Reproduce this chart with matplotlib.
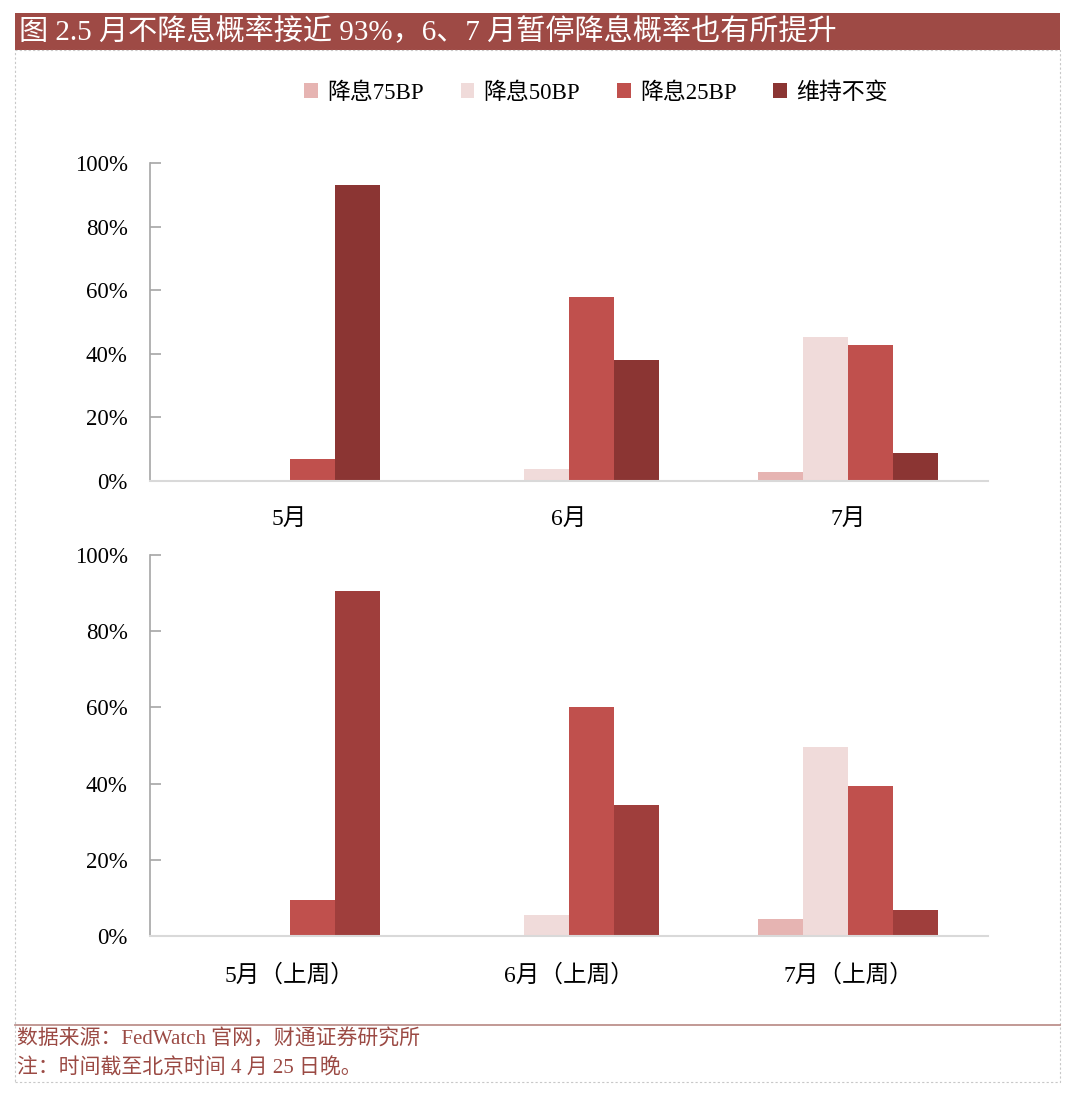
import matplotlib.pyplot as plt
from matplotlib.patches import Rectangle
from matplotlib.lines import Line2D
import numpy as np

#fonts: serif latin first, CJK fallback
FONTS = ['Liberation Serif', 'Noto Sans CJK SC']
plt.rcParams['font.family'] = FONTS

#DATA
################################################################################
series = ['降息75BP', '降息50BP', '降息25BP', '维持不变']

months_now = ['5月', '6月', '7月']
cut75_now = [0.0, 0.0, 2.8]
cut50_now = [0.0, 3.9, 45.4]
cut25_now = [6.9, 58.0, 42.9]
hold_now = [93.1, 38.1, 8.9]

months_prev = ['5月（上周）', '6月（上周）', '7月（上周）']
cut75_prev = [0.0, 0.0, 4.5]
cut50_prev = [0.0, 5.5, 49.5]
cut25_prev = [9.4, 60.1, 39.3]
hold_prev = [90.6, 34.4, 6.7]

yticks = [0, 20, 40, 60, 80, 100]
ytick_labels = ['0%', '20%', '40%', '60%', '80%', '100%']

#colours
C75 = '#E6B4B2'
C50 = '#F0DBDA'
C25 = '#C0504D'
HOLD_TOP = '#8B3533'
HOLD_BOT = '#9F3E3C'
TITLE_BG = '#9E4A45'
FOOT = '#9B4A44'

#FIGURE
################################################################################
fig = plt.figure(figsize=(10.8, 11.01), dpi=100)
W, H = 1080.0, 1101.0

def fx(px):
    return px / W

def fy(py):
    return 1 - py / H

#title bar
fig.patches.append(Rectangle((fx(15), fy(50)), fx(1060) - fx(15), fy(13) - fy(50),
                             transform=fig.transFigure, facecolor=TITLE_BG,
                             edgecolor='none', zorder=0))
fig.text(fx(19), fy(32), '图 2.5 月不降息概率接近 93%，6、7 月暂停降息概率也有所提升',
         color='white', fontsize=21, va='center', ha='left', family=FONTS)

#dashed frame round the chart area
fig.patches.append(Rectangle((fx(15), fy(1082)), fx(1060) - fx(15), fy(50) - fy(1082),
                             transform=fig.transFigure, facecolor='none',
                             edgecolor='#C8C8C8', linestyle=(0, (2, 2)), lw=0.8, zorder=0))

#footer
fig.add_artist(Line2D([fx(15), fx(1060)], [fy(1025), fy(1025)], transform=fig.transFigure,
                      color='#B78783', lw=1.2))
fig.text(fx(17), fy(1040), '数据来源：FedWatch 官网，财通证券研究所', color=FOOT,
         fontsize=15, va='center', ha='left', family=FONTS)
fig.text(fx(17), fy(1068), '注：时间截至北京时间 4 月 25 日晚。', color=FOOT,
         fontsize=15, va='center', ha='left', family=FONTS)

BAR_W = 0.161


def draw(ax, cats, vals, colors):
    x = np.arange(len(cats))
    n = len(vals)
    bars = []
    for i, (v, c) in enumerate(zip(vals, colors)):
        off = (i - (n - 1) / 2) * BAR_W
        bars.append(ax.bar(x + off, v, BAR_W, color=c, linewidth=0, zorder=2))
    ax.set_xlim(-0.5, len(cats) - 0.5)
    ax.set_ylim(0, 100)
    ax.set_yticks(yticks)
    ax.set_yticklabels(ytick_labels)
    ax.set_xticks(x)
    ax.set_xticklabels(cats, family=FONTS)
    for s in ['top', 'right']:
        ax.spines[s].set_visible(False)
    ax.spines['left'].set_color('#A6A6A6')
    ax.spines['bottom'].set_color('#D9D9D9')
    ax.spines['left'].set_linewidth(1.2)
    ax.spines['bottom'].set_linewidth(1.5)
    ax.tick_params(axis='y', direction='in', length=8, width=1.2, color='#A6A6A6',
                   labelsize=16.5, pad=16)
    ax.tick_params(axis='x', length=0, labelsize=17, pad=20)
    for t in ax.get_yticklabels():
        t.set_family('Liberation Serif')
    return bars

ax1 = fig.add_axes([fx(150), fy(481), fx(988) - fx(150), fy(163) - fy(481)])
bars = draw(ax1, months_now, [cut75_now, cut50_now, cut25_now, hold_now],
            [C75, C50, C25, HOLD_TOP])

ax2 = fig.add_axes([fx(150), fy(936), fx(988) - fx(150), fy(555) - fy(936)])
draw(ax2, months_prev, [cut75_prev, cut50_prev, cut25_prev, hold_prev],
     [C75, C50, C25, HOLD_BOT])

#legend
fig.legend([b[0] for b in bars], series, loc='center', bbox_to_anchor=(fx(596), fy(93)),
           ncol=4, frameon=False, prop={'family': FONTS, 'size': 16.5},
           handlelength=0.6, handleheight=0.6, handletextpad=0.4, columnspacing=1.6)

plt.savefig('out.png', dpi=100)
